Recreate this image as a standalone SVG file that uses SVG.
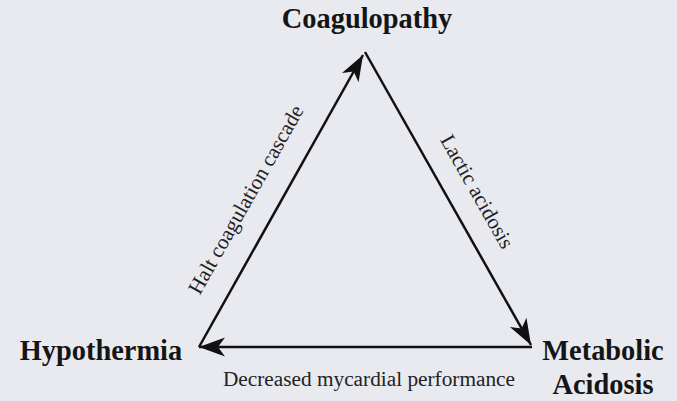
<svg xmlns="http://www.w3.org/2000/svg" width="677" height="401" viewBox="0 0 677 401">
<defs>
<style>
.node{font-family:"Liberation Serif","Times New Roman",serif;font-weight:bold;font-size:28.4px;fill:#151515}
.lbl{font-family:"Liberation Serif","Times New Roman",serif;font-size:21.3px;fill:#222}
.edge{stroke:#111;stroke-width:2.5;fill:none}
</style>
<marker id="ah" markerUnits="userSpaceOnUse" viewBox="-28 -10 30 20" refX="0" refY="0" markerWidth="30" markerHeight="20" orient="auto">
<path d="M0,0 L-26,-9.5 L-19,0 L-26,9.5 Z" fill="#111"/>
</marker>
</defs>
<rect width="677" height="401" fill="#e9eaf0"/>
<g id="connectors">
<line class="edge" x1="199" y1="347" x2="363" y2="55" marker-end="url(#ah)"/>
<line class="edge" x1="365" y1="52" x2="531" y2="345" marker-end="url(#ah)"/>
<line class="edge" x1="532" y1="347" x2="199" y2="347" marker-end="url(#ah)"/>
<text class="lbl" text-anchor="middle" transform="translate(252,203) rotate(-60.6)">Halt coagulation cascade</text>
<text class="lbl" text-anchor="middle" transform="translate(471,195) rotate(60.5)">Lactic acidosis</text>
<text class="lbl" text-anchor="middle" x="369" y="386">Decreased mycardial performance</text>
</g>
<g id="coagulopathy"><text class="node" text-anchor="middle" x="367" y="28">Coagulopathy</text></g>
<g id="hypothermia"><text class="node" text-anchor="middle" x="101" y="360">Hypothermia</text></g>
<g id="metabolic-acidosis"><text class="node" text-anchor="middle" x="603" y="360">Metabolic</text><text class="node" text-anchor="middle" x="603" y="394">Acidosis</text></g>
</svg>
